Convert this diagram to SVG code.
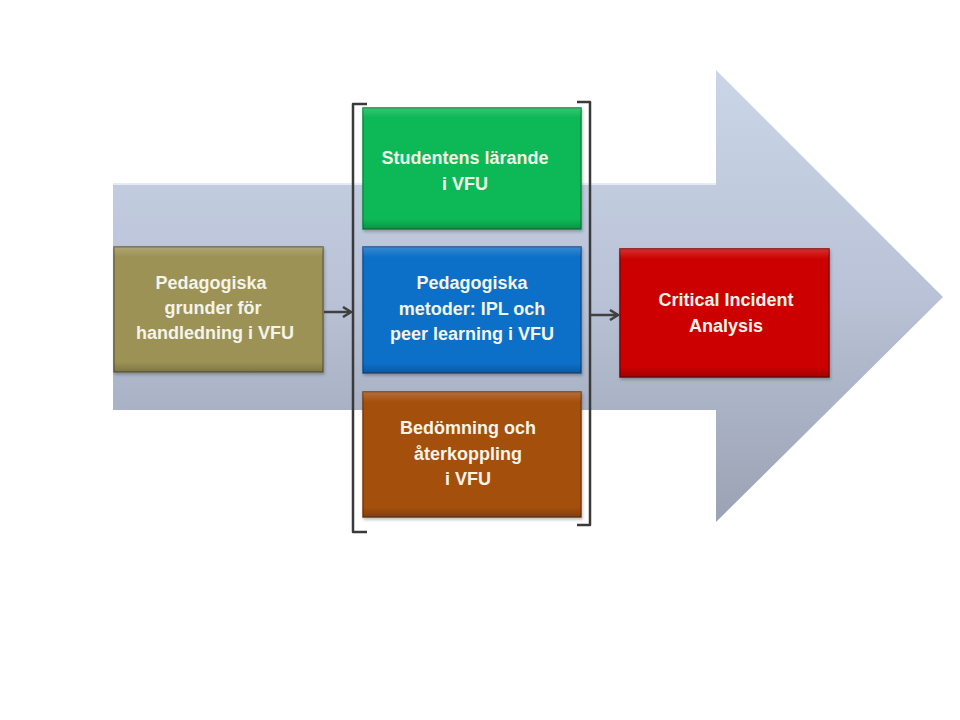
<svg xmlns="http://www.w3.org/2000/svg" width="960" height="720" viewBox="0 0 960 720">
<defs>
<linearGradient id="bg" gradientUnits="userSpaceOnUse" x1="0" y1="70" x2="0" y2="522">
<stop offset="0" stop-color="#cbd5e8"/>
<stop offset="0.5" stop-color="#b9c2d6"/>
<stop offset="1" stop-color="#9aa2b3"/>
</linearGradient>
<linearGradient id="bev" x1="0" y1="0" x2="0" y2="1">
<stop offset="0" stop-color="#ffffff" stop-opacity="0.18"/>
<stop offset="0.08" stop-color="#ffffff" stop-opacity="0"/>
<stop offset="0.92" stop-color="#000000" stop-opacity="0"/>
<stop offset="1" stop-color="#000000" stop-opacity="0.2"/>
</linearGradient>
<marker id="ah" viewBox="0 0 12 12" refX="10" refY="6" markerWidth="12" markerHeight="12" markerUnits="userSpaceOnUse" orient="auto">
<path d="M2,1 L10,6 L2,11" fill="none" stroke="#404040" stroke-width="2.5"/>
</marker>
<filter id="sh" x="-5%" y="-5%" width="110%" height="115%">
<feDropShadow dx="1" dy="2" stdDeviation="1.5" flood-color="#000" flood-opacity="0.25"/>
</filter>
</defs>
<style>
.box{stroke-width:1.5;filter:url(#sh)}
.bev{fill:url(#bev);stroke:none}
.t{font-family:"Liberation Sans",Arial,sans-serif;font-weight:bold;font-size:18px;fill:#f4f4e8;text-anchor:middle}
.br{fill:none;stroke:#3a3a3a;stroke-width:2.5;stroke-linejoin:round}
.cn{fill:none;stroke:#404040;stroke-width:2.5}
</style>
<rect width="960" height="720" fill="#ffffff"/>
<g id="big-arrow">
<path d="M113,183 L716,183 L716,70 L943,297 L716,522 L716,410 L113,410 Z" fill="url(#bg)"/>
<line x1="113" y1="184" x2="716" y2="184" stroke="#e6ebf3" stroke-width="2"/>
</g>
<g id="bracket">
<path class="br" d="M367,104 L353,104 L353,532 L367,532"/>
<path class="br" d="M577,102 L590,102 L590,525 L577,525"/>
</g>
<g id="n1">
<rect class="box" x="114" y="247" width="209" height="125" fill="#9c9256" stroke="#6a6440"/>
<rect class="bev" x="114" y="247" width="209" height="125"/>
<text class="t" x="211" y="289">Pedagogiska</text>
<text class="t" x="213" y="314">grunder för</text>
<text class="t" x="215" y="339">handledning i VFU</text>
</g>
<g id="n2">
<rect class="box" x="363" y="108" width="218" height="121" fill="#0bb856" stroke="#078a40"/>
<rect class="bev" x="363" y="108" width="218" height="121"/>
<text class="t" x="465" y="164">Studentens lärande</text>
<text class="t" x="465" y="190">i VFU</text>
</g>
<g id="n3">
<rect class="box" x="363" y="247" width="218" height="126" fill="#0a6fc8" stroke="#0a5295"/>
<rect class="bev" x="363" y="247" width="218" height="126"/>
<text class="t" x="472" y="289">Pedagogiska</text>
<text class="t" x="472" y="315">metoder: IPL och</text>
<text class="t" x="472" y="340">peer learning i VFU</text>
</g>
<g id="n4">
<rect class="box" x="363" y="392" width="218" height="125" fill="#a5500f" stroke="#773a0a"/>
<rect class="bev" x="363" y="392" width="218" height="125"/>
<text class="t" x="468" y="434">Bedömning och</text>
<text class="t" x="468" y="460">återkoppling</text>
<text class="t" x="468" y="485">i VFU</text>
</g>
<g id="n5">
<rect class="box" x="620" y="249" width="209" height="128" fill="#cc0303" stroke="#8a0000"/>
<rect class="bev" x="620" y="249" width="209" height="128"/>
<text class="t" x="726" y="306">Critical Incident</text>
<text class="t" x="726" y="332">Analysis</text>
</g>
<g id="connectors">
<line class="cn" x1="324" y1="312" x2="351" y2="312" marker-end="url(#ah)"/>
<line class="cn" x1="591" y1="315" x2="618" y2="315" marker-end="url(#ah)"/>
</g>
</svg>
